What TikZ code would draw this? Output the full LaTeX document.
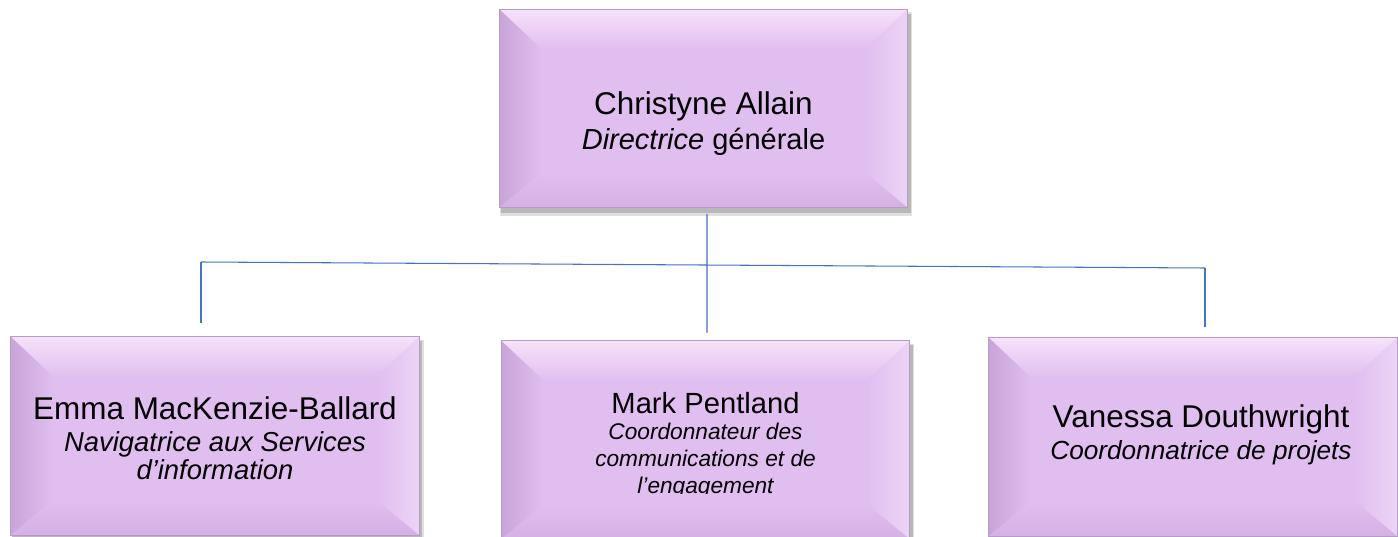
\documentclass[tikz,border=0pt]{standalone}
\usepackage{fontspec}
\setmainfont{Liberation Sans}
\usepackage{xcolor}
\usetikzlibrary{positioning}
\definecolor{face}{RGB}{225,190,240}
\definecolor{bvtop}{RGB}{246,226,250}
\definecolor{bvleft}{RGB}{200,164,216}
\definecolor{bvright}{RGB}{236,212,246}
\definecolor{bvbot}{RGB}{212,176,228}
\definecolor{rim}{RGB}{180,156,196}
\definecolor{linkblue}{RGB}{68,114,196}
\newcommand{\bevelbox}[1]{%
 \fill[black, opacity=.12] ([shift={(0.02,-0.06)}]#1.north west) rectangle ([shift={(0.09,-0.17)}]#1.south east);
 \fill[black, opacity=.18] ([shift={(0.03,-0.09)}]#1.north west) rectangle ([shift={(0.06,-0.11)}]#1.south east);
 \fill[face] (#1.north west) rectangle (#1.south east);
 \shade[top color=bvtop, bottom color=face] (#1.north west) -- (#1.north east) -- ([shift={(-0.85,-0.8)}]#1.north east) -- ([shift={(0.85,-0.8)}]#1.north west) -- cycle;
 \shade[left color=bvleft, right color=face] (#1.north west) -- ([shift={(0.85,-0.8)}]#1.north west) -- ([shift={(0.85,0.7)}]#1.south west) -- (#1.south west) -- cycle;
 \shade[left color=face, right color=bvright] (#1.north east) -- ([shift={(-0.85,-0.8)}]#1.north east) -- ([shift={(-0.85,0.7)}]#1.south east) -- (#1.south east) -- cycle;
 \shade[top color=face, bottom color=bvbot] (#1.south west) -- ([shift={(0.85,0.7)}]#1.south west) -- ([shift={(-0.85,0.7)}]#1.south east) -- (#1.south east) -- cycle;
 \draw[rim, line width=0.5pt] (#1.north west) rectangle (#1.south east);
}

\begin{document}
\begin{tikzpicture}[
  box/.style={minimum width=8.16cm, minimum height=3.96cm, inner sep=0pt},
  who/.style={align=center, inner sep=0pt, font=\fontsize{17.9}{15.9}\selectfont},
  link/.style={draw=linkblue, line width=0.6pt}]
 \useasboundingbox (0,0) rectangle (27.96,-10.74);
 % boxes
 \node[box] (ceo) at (14.07,-2.17) {};
 \node[box] (emma) at (4.30,-8.72) {};
 \node[box] (mark) at (14.11,-8.80) {};
 \node[box] (vanessa) at (23.86,-8.74) {};
 \bevelbox{ceo} \bevelbox{emma} \bevelbox{mark} \bevelbox{vanessa}
 % names and roles
 \node[who, font=\fontsize{17.9}{19.9}\selectfont, below=1.64cm of ceo.north] (ceo-t)
   {Christyne Allain\\ {\fontsize{16.5}{19.9}\selectfont\textit{Directrice} générale}};
 \node[who, below=1.20cm of emma.north] (emma-t)
   {Emma MacKenzie-Ballard\\[2.3pt] {\fontsize{15.6}{15.9}\selectfont\itshape Navigatrice aux Services}\\ {\fontsize{15.6}{15.9}\selectfont\itshape d’information}};
 \begin{scope}
  \clip (mark.north west) rectangle ([yshift=-3.06cm]mark.north east);
  \node[who, font=\fontsize{16.6}{15.2}\selectfont, below=1.02cm of mark.north] (mark-t)
    {Mark Pentland\\ {\fontsize{12.9}{15.2}\selectfont\itshape Coordonnateur des}\\ {\fontsize{12.9}{15.2}\selectfont\itshape communications et de}\\ {\fontsize{12.9}{15.2}\selectfont\itshape l’engagement}};
 \end{scope}
 \node[who, font=\fontsize{17.9}{18.2}\selectfont, below=1.34cm of vanessa.north, xshift=0.16cm] (vanessa-t)
   {Vanessa Douthwright\\ {\fontsize{14.9}{18.2}\selectfont\itshape Coordonnatrice de projets}};
 % connectors
 \coordinate (barL) at (4.02,-5.24);
 \coordinate (barR) at (24.10,-5.36);
 \draw[link, shorten <=0.12cm, shorten >=0.16cm] ([xshift=0.07cm]ceo.south) -- ([xshift=0.03cm]mark.north);
 \draw[link] (barL) -- (barR);
 \draw[link, shorten >=0.28cm] (barL) -- (barL |- emma.north);
 \draw[link, shorten >=0.22cm] (barR) -- (barR |- vanessa.north);
\end{tikzpicture}
\end{document}
